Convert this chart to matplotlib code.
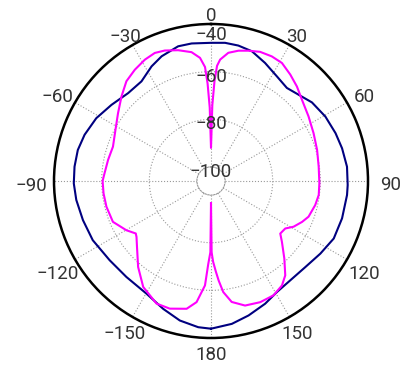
import numpy as np
import matplotlib
matplotlib.use("Agg")
import matplotlib.pyplot as plt

plt.rcParams['font.family'] = ['Roboto', 'DejaVu Sans']

# blue trace (angle in degrees, level in dB)
blue_theta = [-180, -175, -167.4, -159.5, -150.2, -138.6, -128, -116.6, -107, -98,
              -91, -84, -76.9, -69.9, -61.3, -52.6, -43.3, -34.9, -27.4, -21.6,
              -13.7, -8, 0, 5.8, 11.4, 17.5, 24.6, 32.2, 39.2, 45.4, 52.1, 60.6,
              69, 76, 84, 91.7, 95.9, 105.9, 115.1, 123.6, 132.4, 142.5, 149.3,
              156.2, 164.4, 171.7, 180]
blue_db = [-43.9, -44.3, -45.9, -48.6, -51.4, -52.2, -51.9, -50.4, -49.7, -48.8,
           -48.3, -48.3, -48.5, -49.4, -51.0, -53.3, -55.2, -54.9, -51.7, -49.6,
           -47.7, -47.6, -47.9, -47.6, -47.9, -48.8, -51.4, -54.0, -55.5, -54.3,
           -52.2, -50.8, -49.9, -49.2, -48.5, -48.5, -48.5, -48.7, -49.0, -50.8,
           -52.3, -52.5, -51.7, -49.6, -47.3, -45.3, -43.9]

# magenta trace
mag_theta = [-180, -179.5, -178.1, -176.7, -173.2, -169.2, -162.1, -156, -147.4,
             -139.7, -131.7, -126.9, -124.9, -120.2, -112.6, -103.8, -96.6, -90,
             -85.8, -78.4, -70.7, -61.8, -53.9, -46.6, -40.3, -34.4, -28.6, -23.7,
             -19.5, -14.1, -8.6, -5.1, -3, -2, -1, 0, 1, 2, 3, 4.3, 7.7, 11.9, 16,
             20.8, 26, 31, 36.7, 42.3, 48.2, 56.5, 65, 73.7, 82.4, 91.2, 97.4, 103,
             110.1, 114.2, 119, 122.6, 127.2, 130.6, 136.6, 141.8, 145.8, 151.3,
             157.9, 164.7, 170.3, 173.7, 175.6, 177, 178.5, 179.5, 180]
mag_db = [-96.6, -76, -71, -62, -54.7, -51.3, -49.6, -49.6, -53.1,
          -58.6, -64.3, -66.8, -67.4, -64.8, -61.3, -60.7, -60.5, -60.4,
          -61.1, -61.8, -62.3, -60.4, -57.6, -54.2, -51.0, -49.3, -47.9, -47.2,
          -47.8, -49.3, -51.2, -54.0, -58, -65, -75, -92, -74, -64, -57.5, -54.8,
          -51.6, -50.0, -49.0, -47.9, -47.7, -48.1, -50.2, -52.3, -54.7, -56.8,
          -58.4, -59.5, -60.3, -60.4, -60.3, -61.0, -62.3, -64.0, -66.3, -68.9,
          -69.4, -66.7, -61.1, -55.5, -52.9, -51.2, -51.0, -51.7, -54.4, -59.0,
          -64, -68, -72, -76, -96.6]

theta_ticks = [0, 30, 60, 90, 120, 150, 180, 210, 240, 270, 300, 330]
theta_labels = ['0', '30', '60', '90', '120', '150', '180',
                '\u2212150', '\u2212120', '\u221290', '\u221260', '\u221230']
r_ticks = [-100, -80, -60, -40]

fig = plt.figure(figsize=(4.03, 3.69), dpi=100)
ax = fig.add_axes([54 / 403, 31 / 369, 314 / 403, 314 / 369], projection='polar')
ax.set_theta_zero_location('N')
ax.set_theta_direction(-1)
ax.set_rorigin(-105.9)
ax.set_rlim(-100, -40)

ax.plot(np.radians(blue_theta), blue_db, color='#000080', lw=1.5)
ax.plot(np.radians(mag_theta), mag_db, color='#ff00ff', lw=1.5)

ax.set_xticks(np.radians(theta_ticks))
ax.set_xticklabels([])
ax.set_yticks(r_ticks)
ax.set_yticklabels([])
ax.grid(True, color='#999999', linestyle=':', linewidth=0.8)
ax.spines['polar'].set_linewidth(1.8)
ax.spines['polar'].set_color('black')
ax.spines['inner'].set_linestyle(':')
ax.spines['inner'].set_color('#999999')
ax.spines['inner'].set_linewidth(0.8)

# angle labels outside the rim
for t, lab in zip(theta_ticks, theta_labels):
    a = np.radians(t)
    d = 12.5 + 10 * np.sin(a) ** 2
    ax.annotate(lab, xy=(a, -40), xytext=(d * np.sin(a), d * np.cos(a) - 4.5),
                textcoords='offset pixels', ha='center', va='center',
                fontsize=13.5, color='#333333', annotation_clip=False)

# level labels along the 0 deg spoke
for v in r_ticks:
    dy = -8 if v == -40 else -3.5
    ax.annotate(str(v).replace('-', '\u2212'), xy=(0, v), xytext=(0, dy),
                textcoords='offset points', ha='center', va='center',
                fontsize=13.5, color='#333333', annotation_clip=False)

fig.savefig('out.png', dpi=100)
